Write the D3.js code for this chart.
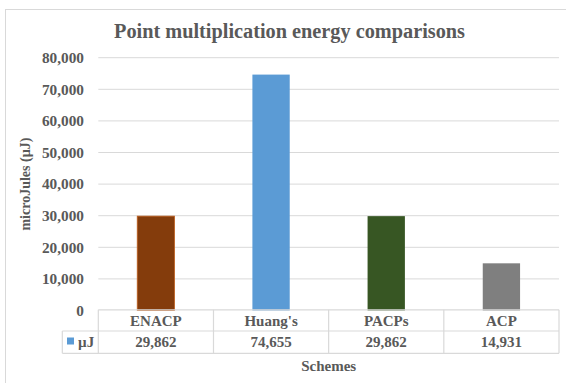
<!DOCTYPE html>
<html><head><meta charset="utf-8">
<script src="https://cdn.jsdelivr.net/npm/d3@7"></script>
<style>body{margin:0;background:#fff}svg{display:block}text{font-family:"Liberation Serif","Times New Roman",serif;font-weight:bold;fill:#595959}</style>
</head><body><svg id="c" width="566" height="383"></svg>
<script>
const categories = ["ENACP", "Huang's", "PACPs", "ACP"];
const values = [29862, 74655, 29862, 14931];
const valueLabels = ["29,862", "74,655", "29,862", "14,931"];
const colors = ["#843C0C", "#5B9BD5", "#375623", "#7F7F7F"];
const yTicks = [0, 10000, 20000, 30000, 40000, 50000, 60000, 70000, 80000];
const seriesName = "µJ";

const svg = d3.select("#c");
const L = 98.3, R = 559, T = 57.7, B = 310.5;
const grid = "#D9D9D9";

svg.append("rect").attr("x", 5.5).attr("y", 9.5).attr("width", 580).attr("height", 400)
  .attr("fill", "none").attr("stroke", grid).attr("stroke-width", 1);

svg.append("text").attr("x", 289.5).attr("y", 38).attr("text-anchor", "middle")
  .style("font-size", "20.3px").text("Point multiplication energy comparisons");

const y = d3.scaleLinear().domain([0, 80000]).range([B, T]);
const x = d3.scaleBand().domain(categories).range([L, R]).paddingInner(0.676).paddingOuter(0.338);
const col = d3.scaleBand().domain(categories).range([L, R]).padding(0);

svg.append("g").selectAll("line").data(yTicks.filter(d => d > 0)).join("line")
  .attr("x1", L).attr("x2", R).attr("y1", d => y(d)).attr("y2", d => y(d))
  .attr("stroke", grid).attr("stroke-width", 1);

const fmt = d3.format(",");
svg.append("g").selectAll("text").data(yTicks).join("text")
  .attr("x", 84).attr("y", d => y(d)).attr("dy", "0.35em").attr("text-anchor", "end")
  .style("font-size", "15.3px").text(d => fmt(d));

svg.append("text").attr("transform", `translate(25.5,${(T + B) / 2}) rotate(-90)`)
  .attr("text-anchor", "middle").attr("dy", "0.35em").style("font-size", "14px")
  .text("microJules (µJ)");

svg.append("g").selectAll("rect").data(values).join("rect")
  .attr("x", (d, i) => x(categories[i])).attr("width", x.bandwidth())
  .attr("y", d => y(d)).attr("height", d => B - y(d))
  .attr("fill", (d, i) => colors[i])
  .attr("stroke", (d, i) => i === 0 ? "#C0601E" : "none").attr("stroke-width", 0.8);

const r0 = 309.8, r1 = 331, r2 = 353.3, legL = 62.3;
const tg = svg.append("g").attr("stroke", grid).attr("stroke-width", 1.2).attr("fill", "none");
tg.append("line").attr("x1", L).attr("x2", R).attr("y1", r0).attr("y2", r0);
tg.append("line").attr("x1", legL).attr("x2", R).attr("y1", r1).attr("y2", r1);
tg.append("line").attr("x1", legL).attr("x2", R).attr("y1", r2).attr("y2", r2);
tg.append("line").attr("x1", legL).attr("x2", legL).attr("y1", r1).attr("y2", r2);
const vb = categories.map(c => col(c)).concat([R]);
tg.selectAll(".v").data(vb).join("line").attr("class", "v")
  .attr("x1", d => d).attr("x2", d => d).attr("y1", r0).attr("y2", r2);

svg.append("g").selectAll("text").data(categories).join("text")
  .attr("x", d => col(d) + col.bandwidth() / 2).attr("y", (r0 + r1) / 2).attr("dy", "0.35em")
  .attr("text-anchor", "middle").style("font-size", "15px").text(d => d);
svg.append("g").selectAll("text").data(valueLabels).join("text")
  .attr("x", (d, i) => col(categories[i]) + col.bandwidth() / 2).attr("y", (r1 + r2) / 2).attr("dy", "0.35em")
  .attr("text-anchor", "middle").style("font-size", "15px").text(d => d);

svg.append("rect").attr("x", 67).attr("y", 337.5).attr("width", 7).attr("height", 7).attr("fill", colors[1]);
svg.append("text").attr("x", 78).attr("y", (r1 + r2) / 2).attr("dy", "0.35em")
  .style("font-size", "15px").text(seriesName);

svg.append("text").attr("x", (L + R) / 2).attr("y", 365.5).attr("dy", "0.35em")
  .attr("text-anchor", "middle").style("font-size", "15px").text("Schemes");
</script></body></html>
